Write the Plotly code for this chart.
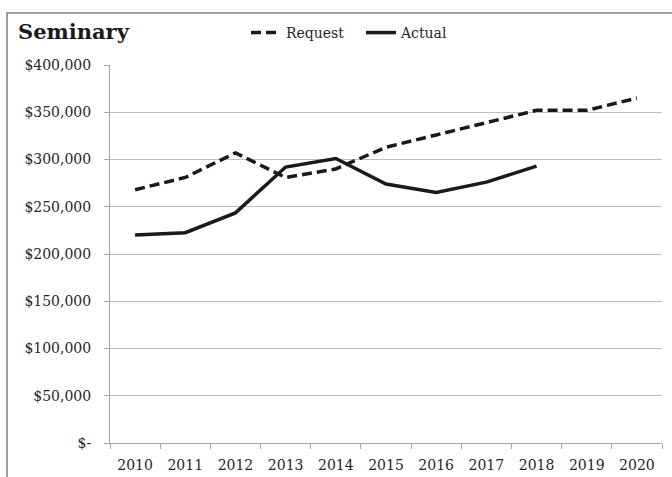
import plotly.graph_objects as go

years = ["2010", "2011", "2012", "2013", "2014", "2015", "2016", "2017", "2018", "2019", "2020"]
request = [268000, 281000, 307000, 281000, 290000, 313000, 326000, 339000, 352000, 352000, 365000]
actual_years = ["2010", "2011", "2012", "2013", "2014", "2015", "2016", "2017", "2018"]
actual = [220000, 222500, 243500, 292000, 301000, 274000, 265000, 276000, 293000]
y_ticks = [0, 50000, 100000, 150000, 200000, 250000, 300000, 350000, 400000]
y_labels = ["$-", "$50,000", "$100,000", "$150,000", "$200,000", "$250,000", "$300,000", "$350,000", "$400,000"]

FONT = "DejaVu Serif"
W, H = 672, 477
L, R, T, B = 110, 10, 65, 34
pw = W - L - R
ph = H - T - B

fig = go.Figure()
fig.add_trace(go.Scatter(x=years, y=request, name="Request", mode="lines", legend="legend",
                         line=dict(color="#1a1a1a", width=3.5, dash="10px,5px")))
fig.add_trace(go.Scatter(x=actual_years, y=actual, name="Actual", mode="lines", legend="legend2",
                         line=dict(color="#1a1a1a", width=3.5)))

def px_to_paper_x(p):
    return (p - L) / pw

def px_to_paper_y(p):
    return (H - B - p) / ph

leg_common = dict(orientation="h", xanchor="left", yanchor="middle",
                  font=dict(family=FONT, size=14, color="#262626"),
                  bgcolor="rgba(0,0,0,0)", itemwidth=30)

fig.update_layout(
    width=W, height=H,
    margin=dict(l=L, r=R, t=T, b=B, autoexpand=False),
    paper_bgcolor="white", plot_bgcolor="white",
    font=dict(family=FONT, size=14, color="#262626"),
    title=dict(text="<b>Seminary</b>", font=dict(family=FONT, size=21, color="#1a1a1a"),
               xref="container", x=18 / W, xanchor="left",
               yref="container", y=1 - 32 / H, yanchor="middle"),
    legend=dict(x=px_to_paper_x(246), y=px_to_paper_y(33), **leg_common),
    legend2=dict(x=px_to_paper_x(361), y=px_to_paper_y(33), **leg_common),
    showlegend=True,
    xaxis=dict(type="category", categoryorder="array", categoryarray=years,
               range=[-0.5, 10.5], showgrid=False, showline=True, linecolor="#a6a6a6", linewidth=1,
               ticks="outside", tickson="boundaries", ticklen=5, tickcolor="#a6a6a6",
               ticklabelstandoff=9, automargin=False,
               tickfont=dict(family=FONT, size=14, color="#262626"), fixedrange=True),
    yaxis=dict(range=[0, 400000], tickvals=y_ticks, ticktext=y_labels,
               showgrid=True, gridcolor="#bfbfbf", gridwidth=1,
               showline=True, linecolor="#a6a6a6", linewidth=1,
               ticks="outside", ticklen=5, tickcolor="#a6a6a6",
               ticklabelstandoff=10, automargin=False,
               tickfont=dict(family=FONT, size=14, color="#262626"), zeroline=False, fixedrange=True),
    shapes=[dict(type="rect", xref="paper", yref="paper",
                 x0=px_to_paper_x(7), x1=px_to_paper_x(700),
                 y0=px_to_paper_y(520), y1=px_to_paper_y(13),
                 line=dict(color="#808080", width=1.5), fillcolor="rgba(0,0,0,0)", layer="below")],
)

fig.write_html("out.html", config={"displayModeBar": False},
               post_script="document.body.style.margin='0';document.body.style.overflow='hidden';")
